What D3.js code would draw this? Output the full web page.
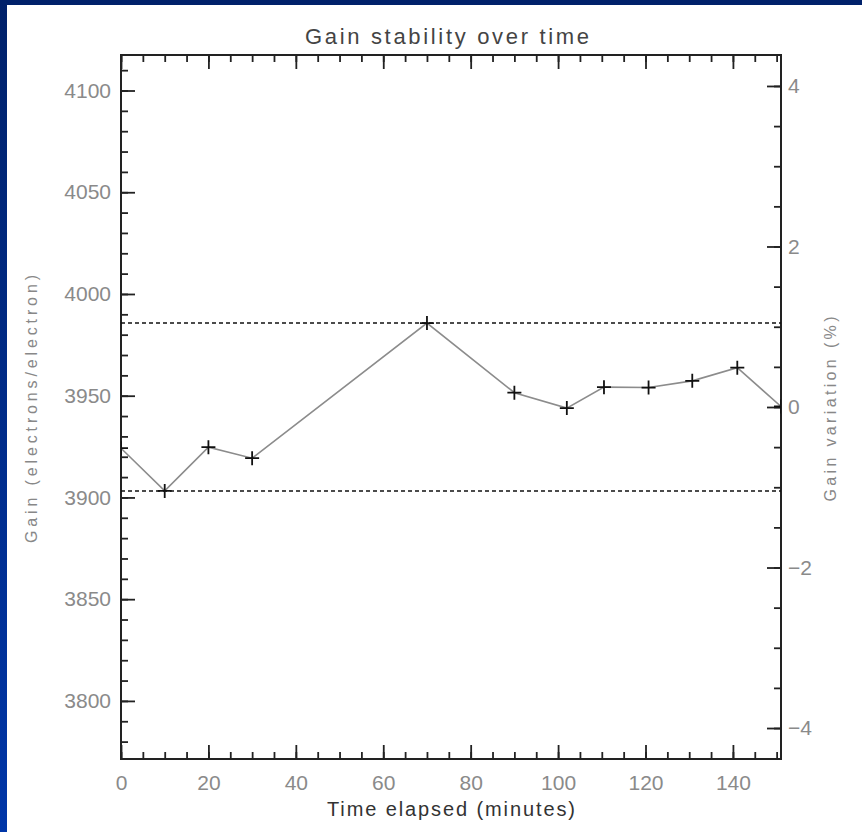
<!DOCTYPE html>
<html>
<head>
<meta charset="utf-8">
<script src="https://d3js.org/d3.v7.min.js"></script>
<style>
  body { margin: 0; }
  text { font-family: "Liberation Sans", Arial, sans-serif; }
</style>
</head>
<body>
<div id="chart"></div>
<script>
const times = [0, 10, 20, 30, 70, 90, 102, 110.5, 120.7, 130.7, 141, 151];
const gains = [3924.2, 3903.2, 3924.7, 3919.3, 3985.7, 3951.5, 3943.9, 3954.2, 3954.0, 3957.3, 3963.8, 3944.7];

const xMajorTicks = [0, 20, 40, 60, 80, 100, 120, 140];
const gainMajorTicks = [3800, 3850, 3900, 3950, 4000, 4050, 4100];
const pctMajorTicks = [-4, -2, 0, 2, 4];

const width = 862, height = 832;
const margin = {top: 55, right: 81, bottom: 73, left: 121};
const plotW = width - margin.left - margin.right;
const plotH = height - margin.top - margin.bottom;

const svg = d3.select("#chart").append("svg")
    .attr("width", width)
    .attr("height", height);

// blue slide background with white page
const grad = svg.append("defs").append("linearGradient")
    .attr("id", "bg").attr("x1", 0).attr("y1", 0).attr("x2", 0).attr("y2", 1);
grad.append("stop").attr("offset", "0%").attr("stop-color", "#00216a");
grad.append("stop").attr("offset", "100%").attr("stop-color", "#0036a8");
svg.append("rect").attr("width", width).attr("height", height).attr("fill", "url(#bg)");
svg.append("rect").attr("x", 7).attr("y", 5)
    .attr("width", width - 7).attr("height", height - 5).attr("fill", "#fff");

svg.append("defs").append("clipPath").attr("id", "clip")
    .append("rect").attr("width", plotW).attr("height", plotH);

const g = svg.append("g")
    .attr("transform", "translate(" + margin.left + "," + margin.top + ")");

// y range is centred on the midpoint of min and max
const gMin = d3.min(gains), gMax = d3.max(gains);
const center = (gMin + gMax) / 2;
const half = 173;

const x = d3.scaleLinear().domain([0, d3.max(times)]).range([0, plotW]);
const y = d3.scaleLinear().domain([center - half, center + half]).range([plotH, 0]);
const yPct = d3.scaleLinear()
    .domain([-half / center * 100, half / center * 100])
    .range([plotH, 0]);

const xMinor = d3.range(0, d3.max(times) + 0.01, 5);
const gainMinor = d3.range(3780, 4111, 10);
const pctMinor = d3.range(-4, 4.01, 0.5);

function styleAxis(sel) {
    sel.select(".domain").remove();
    sel.selectAll(".tick line").attr("stroke", "#222").attr("stroke-width", 1.8);
    sel.selectAll(".tick text")
        .attr("fill", "#8a8a8a")
        .style("font-size", "21px");
}

// minor ticks
g.append("g").attr("transform", "translate(0," + plotH + ")")
    .call(d3.axisBottom(x).tickValues(xMinor).tickSize(-7).tickFormat(""))
    .call(styleAxis);
g.append("g")
    .call(d3.axisTop(x).tickValues(xMinor).tickSize(-7).tickFormat(""))
    .call(styleAxis);
g.append("g")
    .call(d3.axisLeft(y).tickValues(gainMinor).tickSize(-7).tickFormat(""))
    .call(styleAxis);
g.append("g").attr("transform", "translate(" + plotW + ",0)")
    .call(d3.axisRight(yPct).tickValues(pctMinor).tickSize(-7).tickFormat(""))
    .call(styleAxis);

// major ticks
g.append("g").attr("transform", "translate(0," + plotH + ")")
    .call(d3.axisBottom(x).tickValues(xMajorTicks).tickSize(-14).tickPadding(16))
    .call(styleAxis);
g.append("g")
    .call(d3.axisTop(x).tickValues(xMajorTicks).tickSize(-14).tickFormat(""))
    .call(styleAxis);
g.append("g")
    .call(d3.axisLeft(y).tickValues(gainMajorTicks).tickSize(-14).tickPadding(10)
        .tickFormat(d3.format("d")))
    .call(styleAxis);
g.append("g").attr("transform", "translate(" + plotW + ",0)")
    .call(d3.axisRight(yPct).tickValues(pctMajorTicks).tickSize(-14).tickPadding(7)
        .tickFormat(d3.format("d")))
    .call(styleAxis);

// frame
g.append("rect")
    .attr("width", plotW).attr("height", plotH)
    .attr("fill", "none").attr("stroke", "#222").attr("stroke-width", 2);

// min / max reference lines
[gMin, gMax].forEach(v => {
    g.append("line")
        .attr("x1", 0).attr("x2", plotW)
        .attr("y1", y(v)).attr("y2", y(v))
        .attr("stroke", "#111").attr("stroke-width", 1.5)
        .attr("stroke-dasharray", "4,3");
});

const pts = times.map((t, i) => [t, gains[i]]);

const plot = g.append("g").attr("clip-path", "url(#clip)");

plot.append("path")
    .datum(pts)
    .attr("fill", "none")
    .attr("stroke", "#8c8c8c")
    .attr("stroke-width", 1.6)
    .attr("d", d3.line().x(d => x(d[0])).y(d => y(d[1])));

const s = 7;
plot.selectAll(".cross")
    .data(pts)
    .enter()
    .append("path")
    .attr("class", "cross")
    .attr("fill", "none")
    .attr("stroke", "#111")
    .attr("stroke-width", 1.8)
    .attr("d", d => {
        const cx = x(d[0]), cy = y(d[1]);
        return "M" + (cx - s) + "," + cy + "H" + (cx + s) +
               "M" + cx + "," + (cy - s) + "V" + (cy + s);
    });

// titles
svg.append("text")
    .attr("x", margin.left + plotW / 2 - 4).attr("y", 44)
    .attr("text-anchor", "middle")
    .attr("fill", "#444")
    .style("font-size", "22px")
    .attr("textLength", 284).attr("lengthAdjust", "spacing")
    .text("Gain stability over time");

svg.append("text")
    .attr("x", margin.left + plotW / 2).attr("y", 816)
    .attr("text-anchor", "middle")
    .attr("fill", "#333")
    .style("font-size", "20px")
    .attr("textLength", 248).attr("lengthAdjust", "spacing")
    .text("Time elapsed (minutes)");

svg.append("text")
    .attr("transform", "translate(37,409) rotate(-90)")
    .attr("text-anchor", "middle")
    .attr("fill", "#888")
    .style("font-size", "16px")
    .attr("textLength", 268).attr("lengthAdjust", "spacing")
    .text("Gain (electrons/electron)");

svg.append("text")
    .attr("transform", "translate(836,409) rotate(-90)")
    .attr("text-anchor", "middle")
    .attr("fill", "#888")
    .style("font-size", "16px")
    .attr("textLength", 185).attr("lengthAdjust", "spacing")
    .text("Gain variation (%)");
</script>
</body>
</html>
